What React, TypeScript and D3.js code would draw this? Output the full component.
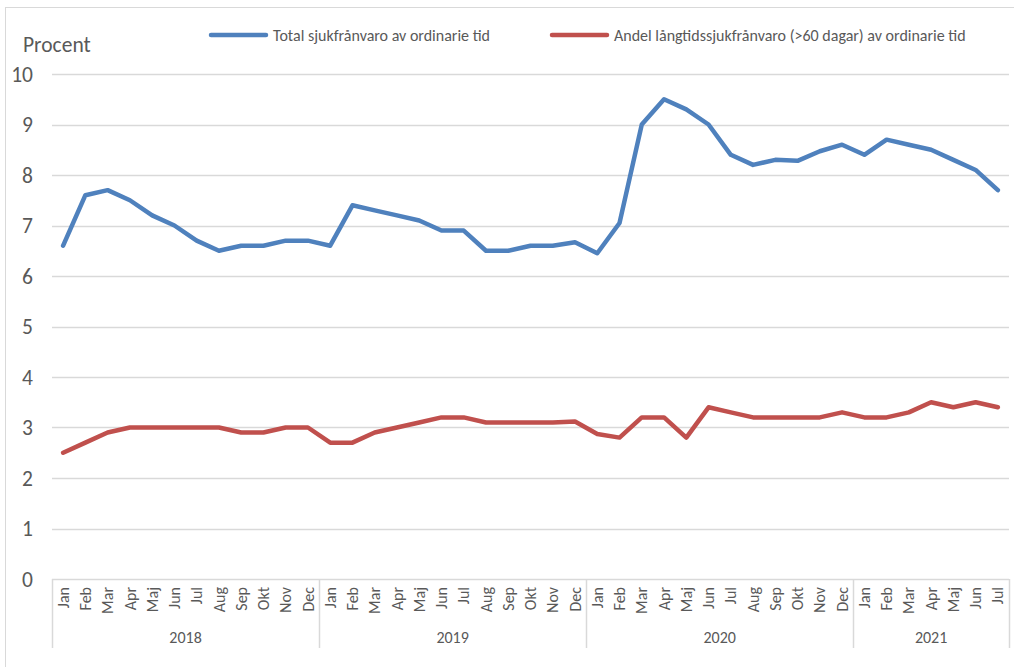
import { useEffect, useRef } from "react";
import * as d3 from "d3";

const years = ["2018", "2019", "2020", "2021"];
const monthsPerYear = [12, 12, 12, 7];
const monthNames = ["Jan", "Feb", "Mar", "Apr", "Maj", "Jun", "Jul", "Aug", "Sep", "Okt", "Nov", "Dec"];

const totalSick = [
  6.6, 7.6, 7.7, 7.5, 7.2, 7.0, 6.7, 6.5, 6.6, 6.6, 6.7, 6.7,
  6.6, 7.4, 7.3, 7.2, 7.1, 6.9, 6.9, 6.5, 6.5, 6.6, 6.6, 6.67,
  6.45, 7.05, 9.0, 9.5, 9.3, 9.0, 8.4, 8.2, 8.3, 8.28, 8.47, 8.6,
  8.4, 8.7, 8.6, 8.5, 8.3, 8.1, 7.7,
];

const longTermSick = [
  2.5, 2.7, 2.9, 3.0, 3.0, 3.0, 3.0, 3.0, 2.9, 2.9, 3.0, 3.0,
  2.7, 2.7, 2.9, 3.0, 3.1, 3.2, 3.2, 3.1, 3.1, 3.1, 3.1, 3.12,
  2.87, 2.8, 3.2, 3.2, 2.8, 3.4, 3.3, 3.2, 3.2, 3.2, 3.2, 3.3,
  3.2, 3.2, 3.3, 3.5, 3.4, 3.5, 3.4,
];

const yTicks = [0, 1, 2, 3, 4, 5, 6, 7, 8, 9, 10];

const seriesNames = [
  "Total sjukfrånvaro av ordinarie tid",
  "Andel långtidssjukfrånvaro (>60 dagar) av ordinarie tid",
];
const colors = ["#4f81bd", "#c0504d"];

export default function App() {
  const svgRef = useRef<SVGSVGElement>(null);

  useEffect(() => {
    if (!svgRef.current) return;
    const svg = d3.select(svgRef.current);
    svg.selectAll("*").remove();

    const width = 1014;
    const height = 667;
    const font = "Calibri, Carlito, 'Open Sans', sans-serif";
    const textColor = "#595959";
    const gridColor = "#d9d9d9";

    const left = 52, right = 1009, top = 74, bottom = 579;

    // month keys
    const keys: string[] = [];
    const labels: string[] = [];
    years.forEach((y, i) => {
      for (let m = 0; m < monthsPerYear[i]; m++) {
        keys.push(`${y}-${m}`);
        labels.push(monthNames[m]);
      }
    });

    const x = d3.scaleBand().domain(keys).range([left, right]).padding(0);
    const y = d3.scaleLinear().domain([0, 10]).range([bottom, top]);
    const cx = (i: number) => (x(keys[i]) || 0) + x.bandwidth() / 2;

    // outer chart border
    svg.append("rect")
      .attr("x", 5.5).attr("y", 7.5)
      .attr("width", width + 20).attr("height", height + 20)
      .attr("fill", "none").attr("stroke", gridColor);

    // gridlines
    svg.append("g")
      .selectAll("line")
      .data(yTicks)
      .enter()
      .append("line")
      .attr("x1", left).attr("x2", right)
      .attr("y1", d => Math.round(y(d)) + 0.5)
      .attr("y2", d => Math.round(y(d)) + 0.5)
      .attr("stroke", gridColor)
      .attr("stroke-width", 1.5);

    // y tick labels
    svg.append("g")
      .selectAll("text")
      .data(yTicks)
      .enter()
      .append("text")
      .attr("x", 33)
      .attr("y", d => y(d))
      .attr("dy", "0.35em")
      .attr("text-anchor", "end")
      .style("font-family", font)
      .style("font-size", "21.5px")
      .style("fill", textColor)
      .text(d => d);

    svg.append("text")
      .attr("x", 23).attr("y", 52)
      .style("font-family", font)
      .style("font-size", "21.5px")
      .style("fill", textColor)
      .text("Procent");

    // year separators
    let start = 0;
    const bounds: number[] = [left];
    monthsPerYear.forEach(n => {
      start += n;
      bounds.push(start < keys.length ? (x(keys[start]) || 0) : right);
    });
    svg.append("g")
      .selectAll("line")
      .data(bounds)
      .enter()
      .append("line")
      .attr("x1", d => Math.round(d) + 0.5).attr("x2", d => Math.round(d) + 0.5)
      .attr("y1", bottom).attr("y2", 648)
      .attr("stroke", gridColor)
      .attr("stroke-width", 1.5);

    // month labels
    svg.append("g")
      .selectAll("text")
      .data(labels)
      .enter()
      .append("text")
      .attr("transform", (_, i) => `translate(${cx(i)},587) rotate(-90)`)
      .attr("dy", "0.35em")
      .attr("text-anchor", "end")
      .style("font-family", font)
      .style("font-size", "16px")
      .style("fill", textColor)
      .text(d => d);

    // year labels
    svg.append("g")
      .selectAll("text")
      .data(years)
      .enter()
      .append("text")
      .attr("x", (_, i) => (bounds[i] + bounds[i + 1]) / 2)
      .attr("y", 637)
      .attr("dy", "0.35em")
      .attr("text-anchor", "middle")
      .style("font-family", font)
      .style("font-size", "16px")
      .style("fill", textColor)
      .text(d => d);

    // lines
    const line = d3.line<number>()
      .x((_, i) => cx(i))
      .y(d => y(d));

    [totalSick, longTermSick].forEach((s, i) => {
      svg.append("path")
        .datum(s)
        .attr("d", line)
        .attr("fill", "none")
        .attr("stroke", colors[i])
        .attr("stroke-width", 4.5)
        .attr("stroke-linejoin", "round")
        .attr("stroke-linecap", "round");
    });

    // legend
    const legendX = [211, 552];
    seriesNames.forEach((name, i) => {
      const g = svg.append("g").attr("transform", `translate(${legendX[i]},35)`);
      g.append("line")
        .attr("x1", 0).attr("x2", 55)
        .attr("stroke", colors[i])
        .attr("stroke-width", 4.5)
        .attr("stroke-linecap", "round");
      g.append("text")
        .attr("x", 62)
        .attr("dy", "0.35em")
        .style("font-family", font)
        .style("font-size", "16px")
        .style("fill", textColor)
        .text(name);
    });
  }, []);

  return (
    <svg
      ref={svgRef}
      width={1014}
      height={667}
      style={{ position: "absolute", left: 0, top: 0, background: "#fff" }}
    />
  );
}
